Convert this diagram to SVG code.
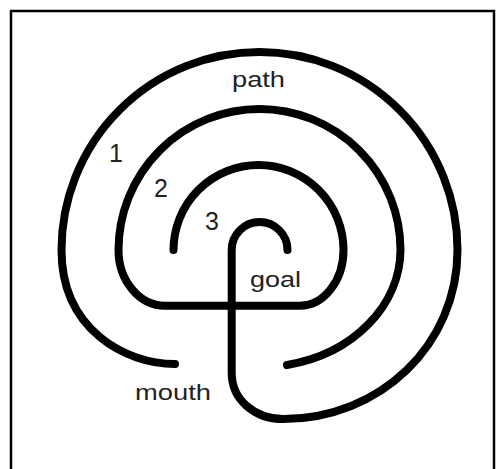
<svg xmlns="http://www.w3.org/2000/svg" width="500" height="469" viewBox="0 0 500 469">
<style>
.wall{fill:none;stroke:#000;stroke-width:8;stroke-linecap:round;stroke-linejoin:round}
.frame{fill:none;stroke:#000;stroke-width:2.5}
.lbl{font-family:"Liberation Sans",Arial,sans-serif;font-size:22px;fill:#222}
.num{font-size:25px}
</style>
<rect width="500" height="469" fill="#fff"/>
<path class="frame" d="M11,469 V11 H494 V469"/>
<g id="connectors">
<path id="wall-outer" class="wall" d="M175,364 C126,364 61.5,330 61.5,250 A198,198 0 0 1 457.5,250 C457.5,345 380,419 283,419 C255,419 231.7,400 231.7,373 L231.7,250 A27.9,27.9 0 0 1 287.5,250"/>
<path id="wall-middle" class="wall" d="M287,365 A141,118 0 0 0 400.5,250 A141,141 0 0 0 118.5,250 C118.5,280.6 139.4,305.7 165,305.7 L300,305.7 C323.9,305.7 343.5,280.6 343.5,250 A85,85 0 0 0 173.5,250"/>
</g>
<g id="labels">
<text id="path" class="lbl" x="232" y="87" textLength="53" lengthAdjust="spacingAndGlyphs">path</text>
<text id="n1" class="lbl num" x="109" y="162">1</text>
<text id="n2" class="lbl num" x="154" y="197">2</text>
<text id="n3" class="lbl num" x="205" y="230">3</text>
<text id="goal" class="lbl" x="250" y="287" textLength="51" lengthAdjust="spacingAndGlyphs">goal</text>
<text id="mouth" class="lbl" x="135" y="400" textLength="76" lengthAdjust="spacingAndGlyphs">mouth</text>
</g>
</svg>
